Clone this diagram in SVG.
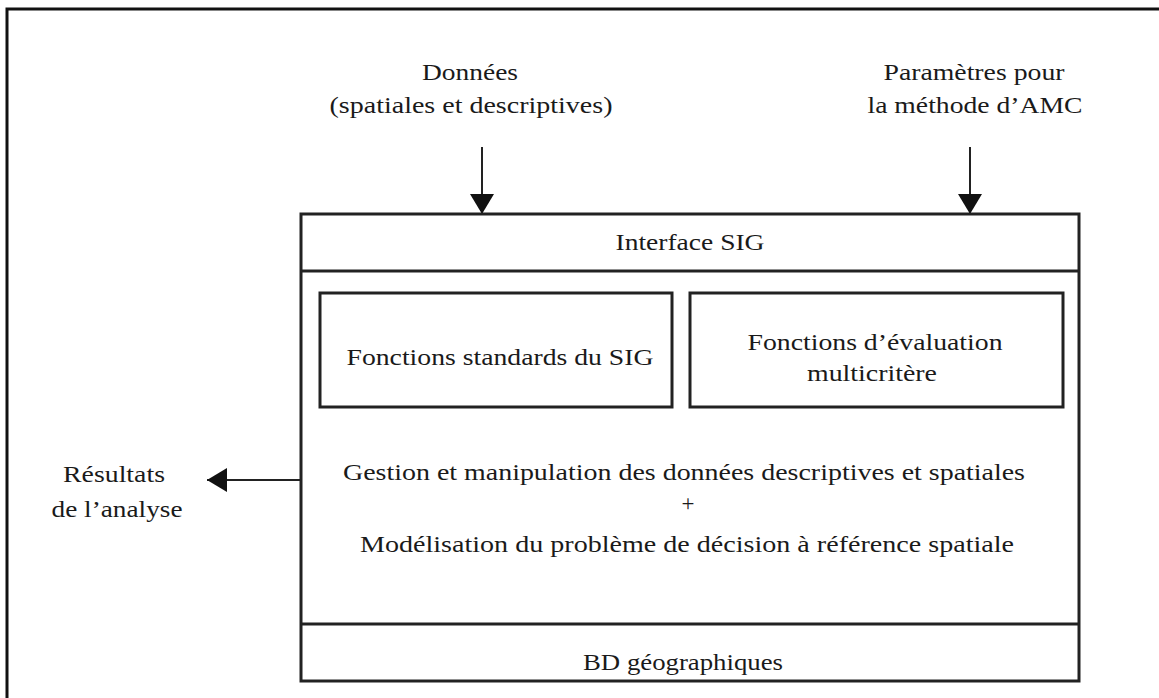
<svg xmlns="http://www.w3.org/2000/svg" width="1159" height="698" viewBox="0 0 1159 698">
<defs>
<style>
.t{font-family:"Liberation Serif","Times New Roman",serif;font-size:23px;fill:#1a1a1a;text-anchor:middle}
.b{fill:none;stroke:#222;stroke-width:3}
.c{fill:none;stroke:#222;stroke-width:2}
</style>
<marker id="ah" viewBox="0 0 20 24" refX="20" refY="12" markerWidth="20" markerHeight="24" markerUnits="userSpaceOnUse" orient="auto">
<path d="M0,0 L20,12 L0,24 Z" fill="#111"/>
</marker>
</defs>
<rect width="1159" height="698" fill="#fff"/>
<path d="M7,700 V9 H1161" fill="none" stroke="#111" stroke-width="3"/>

<g id="connectors">
<line class="c" x1="482" y1="147" x2="482" y2="214" marker-end="url(#ah)"/>
<line class="c" x1="970" y1="147" x2="970" y2="214" marker-end="url(#ah)"/>
<line class="c" x1="301" y1="480" x2="207" y2="480" marker-end="url(#ah)"/>
</g>

<g id="donnees">
<text class="t" x="470" y="80" textLength="96" lengthAdjust="spacingAndGlyphs">Données</text>
<text class="t" x="471" y="113" textLength="283" lengthAdjust="spacingAndGlyphs">(spatiales et descriptives)</text>
</g>
<g id="parametres">
<text class="t" x="974" y="80" textLength="181" lengthAdjust="spacingAndGlyphs">Paramètres pour</text>
<text class="t" x="975" y="113" textLength="215" lengthAdjust="spacingAndGlyphs">la méthode d’AMC</text>
</g>
<g id="resultats">
<text class="t" x="114" y="482" textLength="102" lengthAdjust="spacingAndGlyphs">Résultats</text>
<text class="t" x="117" y="517" textLength="131" lengthAdjust="spacingAndGlyphs">de l’analyse</text>
</g>

<g id="sig">
<rect class="b" x="301" y="214" width="778" height="467"/>
<line class="b" x1="301" y1="271" x2="1079" y2="271"/>
<line class="b" x1="301" y1="624" x2="1079" y2="624"/>
</g>
<g id="interface">
<text class="t" x="690" y="250" textLength="149" lengthAdjust="spacingAndGlyphs">Interface SIG</text>
</g>
<g id="fonctions-standards">
<rect class="b" x="320" y="293" width="352" height="114"/>
<text class="t" x="500" y="365" textLength="307" lengthAdjust="spacingAndGlyphs">Fonctions standards du SIG</text>
</g>
<g id="fonctions-amc">
<rect class="b" x="690" y="293" width="373" height="114"/>
<text class="t" x="875" y="350" textLength="255" lengthAdjust="spacingAndGlyphs">Fonctions d’évaluation</text>
<text class="t" x="872" y="381" textLength="130" lengthAdjust="spacingAndGlyphs">multicritère</text>
</g>
<g id="gestion">
<text class="t" x="684" y="480" textLength="682" lengthAdjust="spacingAndGlyphs">Gestion et manipulation  des données descriptives et spatiales</text>
<text class="t" x="688" y="511">+</text>
<text class="t" x="687" y="552" textLength="654" lengthAdjust="spacingAndGlyphs">Modélisation du problème de décision à référence  spatiale</text>
</g>
<g id="bd">
<text class="t" x="683" y="670" textLength="200" lengthAdjust="spacingAndGlyphs">BD géographiques</text>
</g>
</svg>
